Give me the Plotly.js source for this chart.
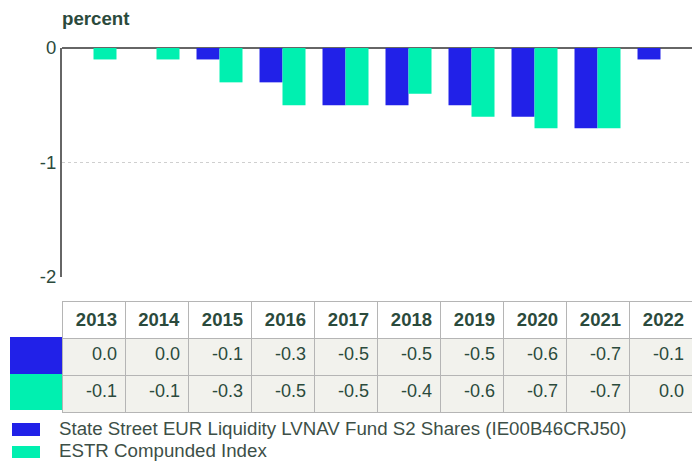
<!DOCTYPE html>
<html>
<head>
<meta charset="utf-8">
<script src="https://cdn.plot.ly/plotly-3.0.1.min.js"></script>
<style>html,body{margin:0;padding:0;background:#fff;}#chart{width:692px;height:461px;}</style>
</head>
<body>
<div id="chart"></div>
<script>
const years = ['2013','2014','2015','2016','2017','2018','2019','2020','2021','2022'];
const fundValues = [0.0, 0.0, -0.1, -0.3, -0.5, -0.5, -0.5, -0.6, -0.7, -0.1];
const estrValues = [-0.1, -0.1, -0.3, -0.5, -0.5, -0.4, -0.6, -0.7, -0.7, 0.0];
const seriesNames = ['State Street EUR Liquidity LVNAV Fund S2 Shares (IE00B46CRJ50)', 'ESTR Compunded Index'];
const seriesColors = ['#2121e8', '#00f0b0'];
const yTickVals = [0, -1, -2];
const yTickText = ['0', '-1', '-2'];
const unitLabel = 'percent';

const W = 692, H = 461, ML = 62, MT = 48, MR = 0, MB = 0;
const PW = W - ML - MR, PH = H - MT - MB;
const px2x = p => (p - ML) / PW;
const px2y = p => (H - MB - p) / PH;
const textColor = '#2b4a3c';
const font = 'Liberation Sans, Arial, sans-serif';

const fmt = v => v.toFixed(1);

const traces = [
  {type: 'bar', x: years, y: fundValues, name: seriesNames[0], marker: {color: seriesColors[0]}, hoverinfo: 'none'},
  {type: 'bar', x: years, y: estrValues, name: seriesNames[1], marker: {color: seriesColors[1]}, hoverinfo: 'none'},
  {
    type: 'table',
    domain: {x: [0, 1], y: [0.02, px2y(301)]},
    columnwidth: years.map(() => 1),
    header: {
      values: years.map(y => '<b>' + y + '</b>'),
      align: 'right',
      height: 36,
      fill: {color: '#ffffff'},
      line: {color: '#b5b5b5', width: 1},
      font: {family: font, size: 18.5, color: textColor}
    },
    cells: {
      values: years.map((y, i) => [fmt(fundValues[i]), fmt(estrValues[i])]),
      align: 'right',
      height: 37,
      fill: {color: '#f2f2ed'},
      line: {color: '#b5b5b5', width: 1},
      font: {family: font, size: 18, color: textColor}
    }
  }
];

const shapes = [
  {type: 'rect', xref: 'paper', yref: 'paper', x0: px2x(10), x1: px2x(62), y0: px2y(337), y1: px2y(374), fillcolor: seriesColors[0], line: {width: 0}, layer: 'above'},
  {type: 'rect', xref: 'paper', yref: 'paper', x0: px2x(10), x1: px2x(62), y0: px2y(374), y1: px2y(410), fillcolor: seriesColors[1], line: {width: 0}, layer: 'above'},
  {type: 'rect', xref: 'paper', yref: 'paper', x0: px2x(12), x1: px2x(40), y0: px2y(423), y1: px2y(436), fillcolor: seriesColors[0], line: {width: 0}},
  {type: 'rect', xref: 'paper', yref: 'paper', x0: px2x(12), x1: px2x(40), y0: px2y(446), y1: px2y(458), fillcolor: seriesColors[1], line: {width: 0}}
];

const annotations = [
  {xref: 'paper', yref: 'paper', x: px2x(57), y: px2y(428.5), xanchor: 'left', yanchor: 'middle', text: seriesNames[0], showarrow: false, font: {family: font, size: 18.7, color: '#3d4f47'}},
  {xref: 'paper', yref: 'paper', x: px2x(57), y: px2y(450), xanchor: 'left', yanchor: 'middle', text: seriesNames[1], showarrow: false, font: {family: font, size: 18.7, color: '#3d4f47'}}
];

const layout = {
  width: W, height: H,
  margin: {l: ML, r: MR, t: MT, b: MB, pad: 0},
  paper_bgcolor: '#ffffff', plot_bgcolor: '#ffffff',
  showlegend: false,
  barmode: 'group',
  bargap: 0.27,
  bargroupgap: 0,
  title: {text: '<b>' + unitLabel + '</b>', x: ML / W, xref: 'container', xanchor: 'left', y: 1 - 18 / H, yanchor: 'middle', font: {family: font, size: 18.7, color: textColor}},
  xaxis: {type: 'category', domain: [0, 1], showticklabels: false, ticks: '', showgrid: false, zeroline: false, showline: false, fixedrange: true},
  yaxis: {
    domain: [px2y(277), 1],
    range: [-2, 0],
    tickvals: yTickVals, ticktext: yTickText,
    tickfont: {family: font, size: 18.5, color: textColor},
    ticks: '', ticklen: 0,
    showgrid: true, gridcolor: '#cfcfcf', griddash: 'dot', gridwidth: 1,
    zeroline: true, zerolinecolor: '#666666', zerolinewidth: 2,
    showline: true, linecolor: '#666666', linewidth: 2,
    fixedrange: true
  },
  shapes: shapes,
  annotations: annotations,
  font: {family: font, color: textColor}
};

Plotly.newPlot('chart', traces, layout, {displayModeBar: false, staticPlot: true});
</script>
</body>
</html>
